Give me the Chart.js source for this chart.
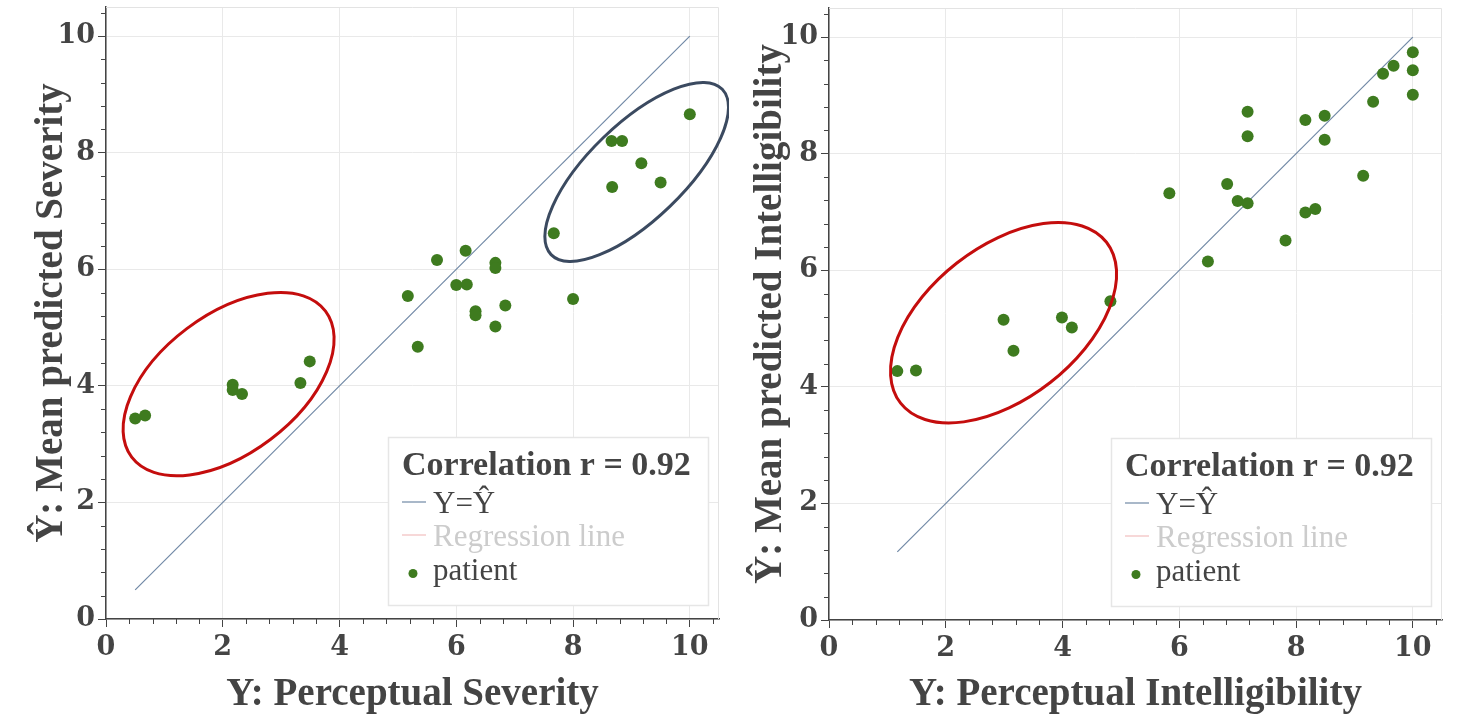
<!DOCTYPE html>
<html>
<head>
<meta charset="utf-8">
<script src="https://cdn.jsdelivr.net/npm/chart.js@4.4.0/dist/chart.umd.min.js"></script>
<style>
html, body { margin: 0; padding: 0; background: #fff; }
#wrap { position: relative; width: 1458px; height: 718px; overflow: hidden; }
#wrap canvas { position: absolute; top: 0; }
</style>
</head>
<body>
<div id="wrap">
    <canvas id="graficoSeveridade" width="729" height="718" style="left:0"></canvas>
    <canvas id="graficoInteligibilidade" width="729" height="718" style="left:729px"></canvas>
</div>
<script>

// Severidade: percebida (x) vs predita (y)
const severidadeX = [0.50, 0.67, 2.17, 2.17, 2.33, 3.33, 3.49, 5.17, 5.34, 5.67, 6.00, 6.18, 6.16, 6.33,
                     6.33, 6.67, 6.67, 6.67, 6.84, 7.67, 8.00, 8.66, 8.84, 8.67, 9.17, 9.50, 10.00];
const severidadeY = [3.44, 3.49, 4.02, 3.93, 3.86, 4.05, 4.42, 5.54, 4.67, 6.16, 5.73, 5.74, 6.32, 5.28,
                     5.21, 6.11, 6.02, 5.02, 5.38, 6.62, 5.49, 8.20, 8.20, 7.41, 7.82, 7.49, 8.66];

// Inteligibilidade: percebida (x) vs predita (y)
const inteligibilidadeX = [1.17, 1.49, 2.99, 3.16, 3.99, 4.16, 4.82, 5.83, 6.49, 6.82, 7.00, 7.17, 7.17, 7.17,
                           7.82, 8.16, 8.33, 8.16, 8.49, 8.49, 9.15, 9.32, 9.49, 9.67, 10.00, 10.00, 10.00];
const inteligibilidadeY = [4.27, 4.28, 5.15, 4.62, 5.19, 5.02, 5.47, 7.32, 6.15, 7.48, 7.19, 7.15, 8.72, 8.30,
                           6.51, 6.99, 7.05, 8.58, 8.65, 8.24, 7.62, 8.89, 9.37, 9.51, 9.74, 9.43, 9.01];

// extremos da reta Y = Ŷ
const identidadeSeveridade = [0.5, 10];
const identidadeInteligibilidade = [1.17, 10];

const ticksEixo = [0, 2, 4, 6, 8, 10];
const correlacao = 'Correlation r = 0.92';

// elipses de destaque (centro, semi-eixos e angulo em unidades dos dados)
const elipsesSeveridade = [
    {cx: 2.10, cy: 4.03, a: 2.08, b: 1.19, ang: 37, cor: '#c40d0d'},
    {cx: 9.09, cy: 7.67, a: 2.04, b: 0.82, ang: 44, cor: '#3b4a60'}
];
const elipsesInteligibilidade = [
    {cx: 2.99, cy: 5.10, a: 2.24, b: 1.30, ang: 38, cor: '#c40d0d'}
];

const corTexto = '#444';
const fonteTitulo = 'Liberation Serif';
const fonteTicks = 'DejaVu Serif';

// ticks menores a cada 0.4
const pluginTicksMenores = {
    id: 'ticksMenores',
    afterDraw(chart) {
        const {ctx, chartArea} = chart;
        const x = chart.scales.x, y = chart.scales.y;
        ctx.save();
        ctx.strokeStyle = corTexto;
        ctx.lineWidth = 1;
        ctx.beginPath();
        for (let i = 1; i * 0.4 <= x.max + 1e-9; i++) {
            if (i % 5 === 0) continue;
            const px = Math.round(x.getPixelForValue(i * 0.4)) + 0.5;
            ctx.moveTo(px, chartArea.bottom);
            ctx.lineTo(px, chartArea.bottom + 5);
        }
        for (let i = 1; i * 0.4 <= y.max + 1e-9; i++) {
            if (i % 5 === 0) continue;
            const py = Math.round(y.getPixelForValue(i * 0.4)) + 0.5;
            ctx.moveTo(chartArea.left, py);
            ctx.lineTo(chartArea.left - 5, py);
        }
        ctx.stroke();
        ctx.restore();
    }
};

// borda clara em cima e a direita
const pluginMoldura = {
    id: 'moldura',
    beforeDatasetsDraw(chart) {
        const {ctx, chartArea: c} = chart;
        ctx.save();
        ctx.strokeStyle = '#e3e3e3';
        ctx.lineWidth = 1;
        ctx.beginPath();
        ctx.moveTo(c.left, c.top + 0.5);
        ctx.lineTo(c.right - 0.5, c.top + 0.5);
        ctx.lineTo(c.right - 0.5, c.bottom);
        ctx.stroke();
        ctx.restore();
    }
};

const pluginElipses = {
    id: 'elipses',
    afterDatasetsDraw(chart, args, opts) {
        const {ctx} = chart;
        const x = chart.scales.x, y = chart.scales.y;
        (opts.lista || []).forEach(e => {
            const cx = x.getPixelForValue(e.cx);
            const cy = y.getPixelForValue(e.cy);
            const ux = x.getPixelForValue(e.cx + 1) - cx;
            const uy = cy - y.getPixelForValue(e.cy + 1);
            const u = (ux + uy) / 2;
            ctx.save();
            ctx.beginPath();
            ctx.ellipse(cx, cy, e.a * u, e.b * u, -e.ang * Math.PI / 180, 0, 2 * Math.PI);
            ctx.strokeStyle = e.cor;
            ctx.lineWidth = 3;
            ctx.stroke();
            ctx.restore();
        });
    }
};

// legenda dentro da area do grafico, canto inferior direito
const pluginLegenda = {
    id: 'legendaCaixa',
    afterDatasetsDraw(chart, args, opts) {
        const {ctx, chartArea: c} = chart;
        const w = 320, h = 168;
        const left = c.right - 11 - w;
        const top = c.bottom - 14 - h;
        ctx.save();
        ctx.fillStyle = '#fff';
        ctx.fillRect(left, top, w, h);
        ctx.strokeStyle = '#e6e6e6';
        ctx.lineWidth = 1.5;
        ctx.strokeRect(left + 0.5, top + 0.5, w, h);

        ctx.textBaseline = 'middle';
        ctx.textAlign = 'left';
        ctx.fillStyle = corTexto;
        ctx.font = 'bold 34px "' + fonteTitulo + '"';
        ctx.fillText(opts.titulo, left + 14, top + 29);

        ctx.font = '31px "' + fonteTitulo + '"';
        const linhas = [68, 101, 134.5];
        chart.data.datasets.forEach((ds, i) => {
            const yy = top + linhas[i];
            if (ds.type === 'line') {
                ctx.globalAlpha = ds.hidden ? 0.3 : 1;
                ctx.strokeStyle = ds.borderColor;
                ctx.lineWidth = 1.2;
                ctx.beginPath();
                ctx.moveTo(left + 14, yy - 3);
                ctx.lineTo(left + 38, yy - 3);
                ctx.stroke();
                ctx.globalAlpha = 1;
            } else {
                ctx.fillStyle = ds.backgroundColor;
                ctx.beginPath();
                ctx.arc(left + 25, yy + 2, 4.5, 0, 2 * Math.PI);
                ctx.fill();
            }
            ctx.fillStyle = ds.hidden ? '#cccccc' : corTexto;
            ctx.fillText(ds.label, left + 45, yy);
        });
        ctx.restore();
    }
};

function criarGrafico(idCanvas, pontosX, pontosY, identidade, tituloX, tituloY, elipses, ajuste) {

    const contexto = document.getElementById(idCanvas).getContext('2d');

    const fonteTick = {family: fonteTicks, weight: 'bold', size: 27};
    const fonteEixo = {family: fonteTitulo, weight: 'bold', size: 39, lineHeight: 1};

    return new Chart(contexto, {
        type: 'scatter',
        data: {
            datasets: [
                {
                    type: 'line',
                    label: 'Y=Ŷ',
                    data: identidade.map(v => ({x: v, y: v})),
                    borderColor: '#7189a6',
                    borderWidth: 1.2,
                    pointRadius: 0,
                    fill: false,
                    order: 2
                },
                {
                    type: 'line',
                    label: 'Regression line',
                    data: [],
                    borderColor: '#d62728',
                    hidden: true
                },
                {
                    label: 'patient',
                    data: pontosX.map((v, i) => ({x: v, y: pontosY[i]})),
                    backgroundColor: '#3e7b1f',
                    borderColor: '#3e7b1f',
                    borderWidth: 0,
                    pointRadius: 6,
                    order: 1
                }
            ]
        },
        options: {
            responsive: false,
            animation: false,
            layout: {padding: ajuste.padding},
            plugins: {
                legend: {display: false},
                tooltip: {enabled: false},
                elipses: {lista: elipses},
                legendaCaixa: {titulo: correlacao}
            },
            scales: {
                x: {
                    type: 'linear',
                    min: 0,
                    max: 10.5,
                    afterBuildTicks: s => { s.ticks = ticksEixo.map(v => ({value: v})); },
                    ticks: {padding: 5, color: corTexto, font: fonteTick, maxRotation: 0},
                    grid: {color: '#e9e9e9', tickColor: corTexto, tickLength: 8},
                    border: {color: corTexto, width: 1.5},
                    title: {display: true, text: tituloX, color: corTexto, font: fonteEixo,
                            padding: {top: 0, bottom: 3.5}},
                    afterFit: s => {
                        s.height = ajuste.alturaX;
                        s.paddingLeft = 0;
                        s.paddingRight = 0;
                    }
                },
                y: {
                    type: 'linear',
                    min: 0,
                    max: 10.5,
                    afterBuildTicks: s => { s.ticks = ticksEixo.map(v => ({value: v})); },
                    ticks: {padding: 3, color: corTexto, font: fonteTick},
                    grid: {color: '#e9e9e9', tickColor: corTexto, tickLength: 8},
                    border: {color: corTexto, width: 1.5},
                    title: {display: true, text: tituloY, color: corTexto, font: fonteEixo,
                            padding: {top: ajuste.recuoY, bottom: 0}},
                    afterFit: s => {
                        s.width = ajuste.larguraY;
                        s.paddingTop = 0;//evita que o rotulo do topo empurre a area do grafico
                        s.paddingBottom = 0;
                    }
                }
            }
        },
        plugins: [pluginMoldura, pluginTicksMenores, pluginElipses, pluginLegenda]
    });
}

criarGrafico('graficoSeveridade', severidadeX, severidadeY, identidadeSeveridade,
    'Y: Perceptual Severity', 'Ŷ: Mean predicted Severity', elipsesSeveridade,
    {padding: {top: 7, right: 10, left: 0, bottom: 0}, alturaX: 99, larguraY: 106, recuoY: 32});

criarGrafico('graficoInteligibilidade', inteligibilidadeX, inteligibilidadeY, identidadeInteligibilidade,
    'Y: Perceptual Intelligibility', 'Ŷ: Mean predicted Intelligibility', elipsesInteligibilidade,
    {padding: {top: 8, right: 16, left: 0, bottom: 0}, alturaX: 98, larguraY: 100, recuoY: 22});

</script>
</body>
</html>
